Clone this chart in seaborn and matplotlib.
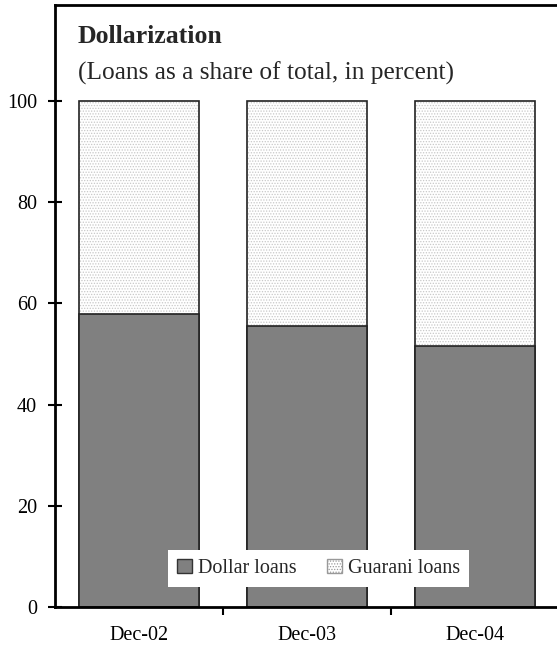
import matplotlib
matplotlib.use("Agg")
import matplotlib.pyplot as plt
from matplotlib.patches import Patch
import seaborn as sns
import pandas as pd

# Loan composition, share of total (percent)
periods = ["Dec-02", "Dec-03", "Dec-04"]
dollar_loans = [58.0, 55.5, 51.5]
guarani_loans = [42.0, 44.5, 48.5]
y_ticks = [0, 20, 40, 60, 80, 100]

sns.set_theme(style="white")
plt.rcParams["font.family"] = ["Liberation Serif", "DejaVu Serif"]
plt.rcParams["hatch.linewidth"] = 0.6

df = pd.DataFrame({
    "period": periods,
    "dollar": dollar_loans,
    "guarani": guarani_loans,
})
df["total"] = df["dollar"] + df["guarani"]

W, H = 557, 652
fig = plt.figure(figsize=(W / 100, H / 100), dpi=100)
ax = fig.add_axes([55 / W, (H - 607) / H, (W - 55) / W, 602 / H])

DOLLAR_COLOR = "#808080"
EDGE = "#222222"
DOT_COLOR = "#c8c8c8"

# Guarani share stacked above the dollar share: draw the full stack first
sns.barplot(data=df, x="period", y="total", ax=ax, width=0.71,
            color="white", edgecolor=DOT_COLOR, hatch="......",
            linewidth=0, saturation=1)
sns.barplot(data=df, x="period", y="total", ax=ax, width=0.71,
            facecolor="none", edgecolor=EDGE, linewidth=1.2,
            saturation=1)
sns.barplot(data=df, x="period", y="dollar", ax=ax, width=0.71,
            color=DOLLAR_COLOR, edgecolor=EDGE, linewidth=1.2,
            saturation=1)

ax.set_ylim(0, 119)
ax.set_xlim(-0.5, 2.488)
ax.set_yticks(y_ticks)
ax.set_xlabel("")
ax.set_ylabel("")

for side in ["left", "bottom", "top"]:
    ax.spines[side].set_visible(True)
    ax.spines[side].set_color("black")
    ax.spines[side].set_linewidth(2)
ax.spines["right"].set_visible(False)

ax.tick_params(axis="y", direction="inout", length=10, width=1.5,
               labelsize=14.5, pad=8, left=True, colors="black")
ax.tick_params(axis="x", which="major", length=0, labelsize=14.5, pad=14,
               colors="black")
ax.set_xticks([0.5, 1.5], minor=True)
ax.tick_params(axis="x", which="minor", direction="out", length=6,
               width=1.5, bottom=True, color="black")

handles = [
    Patch(facecolor=DOLLAR_COLOR, edgecolor="#333333", linewidth=1.0,
          label="Dollar loans"),
    Patch(facecolor="white", edgecolor="#999999", hatch="......",
          linewidth=1.0, label="Guarani loans"),
]
leg = ax.legend(handles=handles, loc="lower left",
                bbox_to_anchor=(0.225, 0.033), ncol=2, frameon=True,
                fontsize=14.5, handlelength=0.75, handleheight=0.75,
                handletextpad=0.3, columnspacing=1.5, borderpad=0.45,
                borderaxespad=0, fancybox=False, framealpha=1)
leg.get_frame().set_edgecolor("white")
leg.get_frame().set_linewidth(0)

fig.text(78 / W, 1 - 43 / H, "Dollarization", fontsize=18.5,
         fontweight="bold", va="baseline", ha="left")
fig.text(78 / W, 1 - 80 / H, "(Loans as a share of total, in percent)",
         fontsize=18.3, va="baseline", ha="left")

fig.savefig("out.png", dpi=100)
